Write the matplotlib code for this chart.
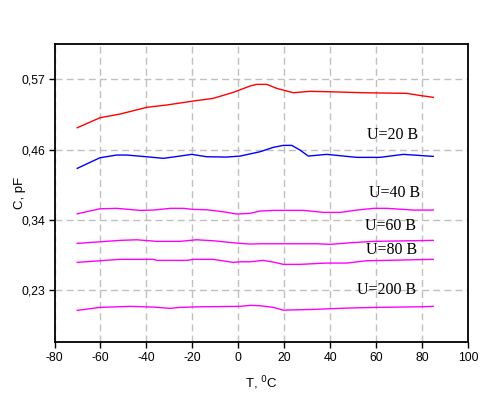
import matplotlib
matplotlib.use("Agg")
import matplotlib.pyplot as plt

# ---- data (T in °C, C in pF) ----
t_red = [-70.1, -60.2, -51.5, -39.9, -31.2, -19.6, -10.9, -2.2, 5.1, 8.0, 12.4, 16.7, 24.0, 31.2, 39.9, 54.4, 73.3, 79.9, 84.9]
c_red = [0.4958, 0.5122, 0.5182, 0.5292, 0.5330, 0.5395, 0.5439, 0.5537, 0.5640, 0.5668, 0.5668, 0.5603, 0.5531, 0.5554, 0.5547, 0.5531, 0.5521, 0.5482, 0.5456]

t_blue = [-70.1, -60.2, -52.9, -48.6, -39.9, -32.6, -25.4, -20.3, -13.7, -5.0, 0.8, 9.5, 15.3, 19.6, 23.3, 26.9, 30.5, 38.5, 51.6, 61.7, 71.9, 84.9]
c_blue = [0.4294, 0.4468, 0.4512, 0.4512, 0.4484, 0.4458, 0.4495, 0.4523, 0.4484, 0.4479, 0.4495, 0.4566, 0.4638, 0.4670, 0.4670, 0.4593, 0.4495, 0.4523, 0.4474, 0.4474, 0.4523, 0.4490]

t_m1 = [-70.1, -60.2, -52.9, -42.7, -36.9, -29.6, -23.8, -19.6, -13.7, -6.5, -0.7, 5.1, 9.5, 15.3, 28.4, 37.1, 44.4, 51.6, 58.9, 64.7, 76.3, 84.9]
c_m1 = [0.3551, 0.3633, 0.3640, 0.3607, 0.3612, 0.3640, 0.3640, 0.3623, 0.3617, 0.3584, 0.3547, 0.3558, 0.3596, 0.3607, 0.3607, 0.3574, 0.3574, 0.3612, 0.3640, 0.3640, 0.3612, 0.3612]

t_m2 = [-70.1, -60.2, -51.5, -44.2, -35.5, -25.4, -18.1, -10.9, -2.2, 5.1, 9.5, 34.2, 40.0, 48.7, 58.9, 84.9]
c_m2 = [0.3067, 0.3093, 0.3116, 0.3126, 0.3100, 0.3100, 0.3126, 0.3110, 0.3077, 0.3056, 0.3061, 0.3061, 0.3051, 0.3077, 0.3100, 0.3116]

t_m3 = [-70.1, -60.2, -51.5, -36.9, -35.5, -22.4, -19.6, -10.9, -2.2, 0.8, 5.1, 10.9, 15.3, 19.6, 26.9, 38.5, 47.2, 55.9, 70.4, 84.9]
c_m3 = [0.2756, 0.2783, 0.2806, 0.2806, 0.2789, 0.2789, 0.2806, 0.2806, 0.2756, 0.2766, 0.2766, 0.2789, 0.2761, 0.2724, 0.2724, 0.2745, 0.2745, 0.2783, 0.2794, 0.2806]

t_m4 = [-70.1, -60.2, -47.2, -36.9, -29.6, -25.4, -16.7, 0.8, 5.1, 9.5, 15.3, 19.6, 32.7, 47.2, 60.3, 79.2, 84.9]
c_m4 = [0.1971, 0.2020, 0.2037, 0.2025, 0.2004, 0.2020, 0.2030, 0.2037, 0.2053, 0.2047, 0.2020, 0.1975, 0.1987, 0.2009, 0.2020, 0.2030, 0.2037]

labels = ["U=20 B", "U=40 B", "U=60 B", "U=80 B", "U=200 B"]

x_ticks = [-80, -60, -40, -20, 0, 20, 40, 60, 80, 100]
y_ticks = [0.23, 0.345, 0.46, 0.575]
y_ticklabels = ["0,23", "0,34", "0,46", "0,57"]

# ---- figure ----
fig = plt.figure(figsize=(4.91, 3.95), dpi=100)
ax = fig.add_axes([0.111, 0.1334, 0.842, 0.7544])

lw = 1.0
ax.plot(t_red, c_red, color="#ff0000", lw=lw)
ax.plot(t_blue, c_blue, color="#0000ff", lw=lw)
for tt, cc in [(t_m1, c_m1), (t_m2, c_m2), (t_m3, c_m3), (t_m4, c_m4)]:
    ax.plot(tt, cc, color="#ff00ff", lw=lw)

ax.set_xlim(-80, 100)
ax.set_ylim(0.1449, 0.6323)
ax.set_xticks(x_ticks)
ax.set_xticklabels([str(v) for v in x_ticks], fontfamily="Liberation Sans", fontsize=8.8)
ax.set_yticks(y_ticks)
ax.set_yticklabels(y_ticklabels, fontfamily="Liberation Sans", fontsize=8.8)
ax.tick_params(direction="out", length=4, width=1, pad=3)

ax.grid(True, color="#c0c0c0", linestyle=(0, (5, 3)), linewidth=1)
ax.set_axisbelow(True)
for s in ax.spines.values():
    s.set_linewidth(1.3)

ax.set_xlabel("T, $^{0}$C", fontfamily="Liberation Sans", fontsize=9.5)
ax.set_ylabel("C, pF", fontfamily="Liberation Sans", fontsize=9.5)
ax.xaxis.set_label_coords(0.5, -0.108)
ax.yaxis.set_label_coords(-0.070, 0.5)

label_pos = [(67.4, 0.4839), (68.2, 0.3895), (66.1, 0.3350), (66.8, 0.2958), (64.5, 0.2303)]
for lab, (x, y) in zip(labels, label_pos):
    ax.text(x, y, lab, ha="center", va="center", fontfamily="Liberation Serif", fontsize=11.5)

fig.savefig("out.png", dpi=100)
